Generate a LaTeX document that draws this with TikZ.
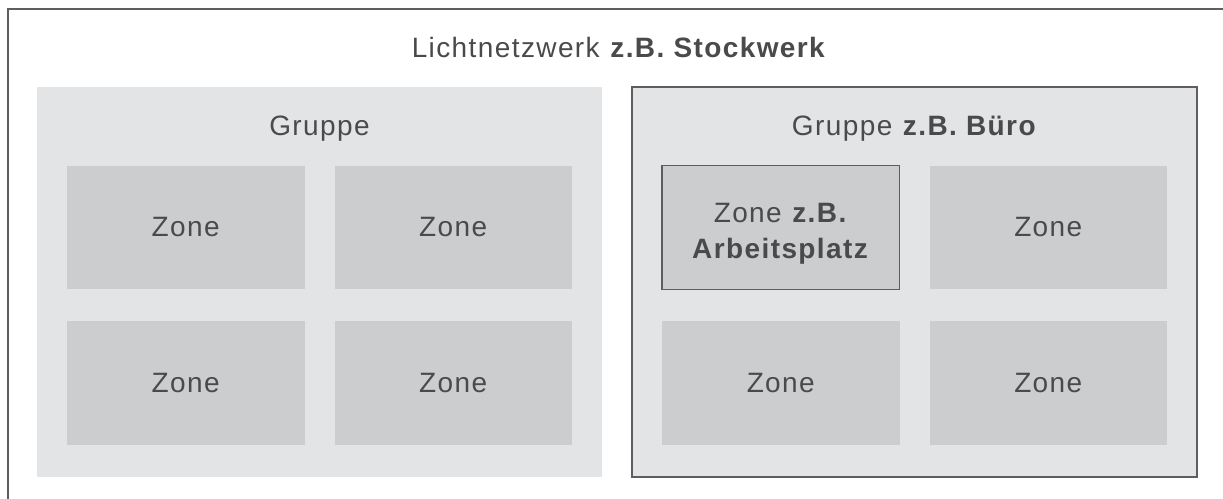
\documentclass[tikz,border=0pt]{standalone}
\usepackage{fontspec}
\setmainfont{Liberation Sans}[LetterSpace=5]
\begin{document}
\begin{tikzpicture}[x=0.75pt,y=-0.75pt,
  network/.style={draw=edge,line width=1.5pt,fill=white,minimum width=1240*0.75pt,minimum height=520*0.75pt,anchor=north west,inner sep=0pt},
  group/.style={fill=grp,minimum width=565*0.75pt,minimum height=390*0.75pt,inner sep=0pt},
  groupsel/.style={group,draw=edge,line width=1.5pt},
  zone/.style={fill=zn,minimum width=237.5*0.75pt,minimum height=123.5*0.75pt,inner sep=0pt,text=txt,font=\fontsize{21}{27}\selectfont,align=center},
  zonesel/.style={zone,draw=edge,line width=1.1pt},
  label/.style={text=txt,font=\fontsize{21}{27}\selectfont,anchor=base,inner sep=0pt},
  zonetext/.style={text=txt,font=\fontsize{21}{27}\selectfont,align=center,inner sep=0pt}]
\definecolor{txt}{HTML}{4A4A4C}
\definecolor{edge}{HTML}{5E5E60}
\definecolor{grp}{HTML}{E3E4E6}
\definecolor{zn}{HTML}{CCCDCF}
\useasboundingbox (0,0) rectangle (1223,499);
\clip (0,0) rectangle (1223,499);

% outer network frame, running past the lower and right edges
\node[network] (net) at (7,8) {};
\node[label] (nettitle) at (619,58) {Lichtnetzwerk \textbf{z.B. Stockwerk}};

% groups
\node[group] (g1) at (319.5,282) {};
\node[groupsel] (g2) at (914.5,282) {};
\node[label] (g1title) at (319.5,136) {Gruppe};
\node[label] (g2title) at (914.5,136) {Gruppe \textbf{z.B. Büro}};

% zones of the first group
\node[zone] (z11) at (185.75,227.5) {Zone};
\node[zone] (z12) at (453.25,227.5) {Zone};
\node[zone] (z13) at (185.75,383) {Zone};
\node[zone] (z14) at (453.25,383) {Zone};

% zones of the second group
\node[zonesel] (z21) at (780.75,227.5) {};
\node[zonetext, yshift=-5pt] (z21text) at (z21.center) {Zone \textbf{z.B.}\\\textbf{Arbeitsplatz}};
\node[zone] (z22) at (1048.25,227.5) {Zone};
\node[zone] (z23) at (780.75,383) {Zone};
\node[zone] (z24) at (1048.25,383) {Zone};
\end{tikzpicture}
\end{document}
